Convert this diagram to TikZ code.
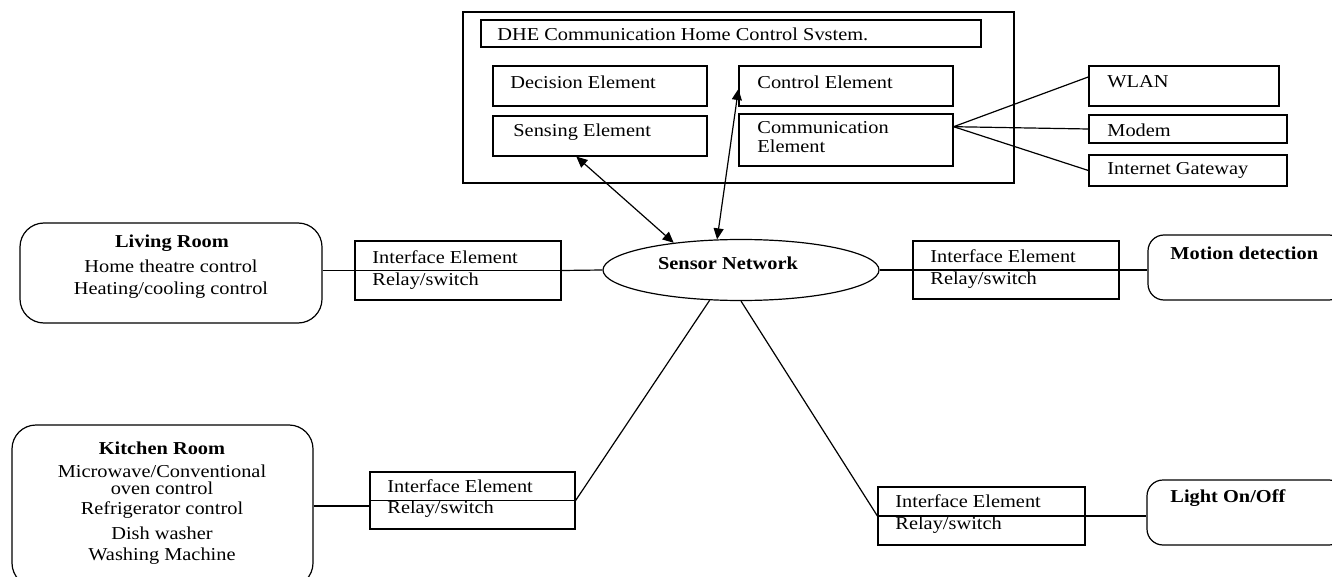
\documentclass[tikz,border=0pt]{standalone}
\usepackage{fontspec}
\setmainfont{Liberation Serif}[FakeStretch=1.12]
\usetikzlibrary{shapes.geometric,fit,arrows.meta,calc}
\begin{document}
\begin{tikzpicture}[x=0.5pt,y=-0.5pt,
  box/.style={draw, line width=0.6pt, inner sep=0pt},
  rbox/.style={draw, line width=0.6pt, inner sep=0pt, rounded corners=12pt},
  sbox/.style={draw, line width=0.6pt, inner sep=0pt, rounded corners=8pt},
  txt/.style={inner sep=0pt, anchor=west, font=\fontsize{9.1}{11}\selectfont},
  btxt/.style={inner sep=0pt, anchor=west, font=\fontsize{9.1}{11}\selectfont\bfseries},
  ctxt/.style={inner sep=0pt, font=\fontsize{9.1}{11}\selectfont},
  cbtxt/.style={inner sep=0pt, font=\fontsize{9.1}{11}\selectfont\bfseries},
  link/.style={line width=0.6pt},
  dbl/.style={line width=0.6pt, {Triangle[length=5.5pt,width=5pt]}-{Triangle[length=5.5pt,width=5pt]}}
]
\clip (0,0) rectangle (1332,577);

% control system block
\node[box, fit={(463,12) (1014,183)}] (sys) {};
\node[box, fit={(481,20) (981,47)}] (title) {};
\node[txt] at (497,34) {DHE Communication Home Control Svstem.};
\node[box, fit={(493,66) (707,106)}] (dec) {};
\node[txt] at (510,82) {Decision Element};
\node[box, fit={(739,66) (953,106)}] (ctrl) {};
\node[txt] at (757,82) {Control Element};
\node[box, fit={(493,116) (707,156)}] (sens) {};
\node[txt] at (513,132) {Sensing Element};
\node[box, fit={(739,114) (953,166)}] (comm) {};
\node[txt] at (757,128) {Communication};
\node[txt] at (757,146) {Element};

% communication channels
\node[box, fit={(1089,66) (1279,106)}] (wlan) {};
\node[txt] at (1107,82) {WLAN};
\node[box, fit={(1089,115) (1287,143)}] (modem) {};
\node[txt] at (1107,130) {Modem};
\node[box, fit={(1089,155) (1287,186)}] (gw) {};
\node[txt] at (1107,170) {Internet Gateway};
\coordinate (hub) at ($(comm.north east)!0.25!(comm.south east)$);
\draw[link] (hub) -- ($(wlan.north west)!0.28!(wlan.south west)$);
\draw[link] (hub) -- (modem.west);
\draw[link] (hub) -- (gw.west);

% sensor network
\node[draw, line width=0.6pt, ellipse, minimum width=138pt, minimum height=30.5pt, inner sep=0pt] (sn) at (741,270) {};
\node[cbtxt] at (728,263) {Sensor Network};
\coordinate (senstip) at ($(sens.south west)!0.39!(sens.south east)$);
\draw[dbl] (sn.158) -- (senstip);
\draw[dbl] (sn.128) -- ($(ctrl.west)+(0,3)$);

% living room
\node[rbox, fit={(20,223) (322,323)}] (living) {};
\node[cbtxt] at (172,243) {Living Room};
\node[ctxt] at (171,266) {Home theatre control};
\node[ctxt] at (171,290) {Heating/cooling control};
\node[box, fit={(355,241) (561,300)}] (ifl) {};
\draw[link] (ifl.west) -- (ifl.east);
\node[txt] at (372,257) {Interface Element};
\node[txt] at (372,281) {Relay/switch};
\draw[link] (ifl.west -| living.east) -- (ifl.west);
\draw[link] (ifl.east) -- (sn.west);

% motion detection
\node[box, fit={(913,241) (1119,299)}] (ifm) {};
\draw[link] (ifm.west) -- (ifm.east);
\node[txt] at (930,256) {Interface Element};
\node[txt] at (930,280) {Relay/switch};
\node[sbox, fit={(1148,235) (1345,300)}] (motion) {};
\node[btxt] at (1170,253) {Motion detection};
\draw[link] (sn.east) -- (ifm.west);
\draw[link] (ifm.east) -- (ifm.east -| motion.west);

% kitchen
\node[rbox, fit={(12,425) (313,587)}] (kitchen) {};
\node[cbtxt] at (162,448) {Kitchen Room};
\node[ctxt] at (162,471) {Microwave/Conventional};
\node[ctxt] at (162,488) {oven control};
\node[ctxt] at (162,510) {Refrigerator control};
\node[ctxt] at (162,533) {Dish washer};
\node[ctxt] at (162,556) {Washing Machine};
\node[box, fit={(370,472) (575,529)}] (ifk) {};
\draw[link] (ifk.west) -- (ifk.east);
\node[txt] at (387,486) {Interface Element};
\node[txt] at (387,509) {Relay/switch};
\draw[link] (kitchen.east) -- (kitchen.east -| ifk.west);
\draw[link] (ifk.east) -- (sn.224);

% light
\node[box, fit={(878,487) (1085,545)}] (ifo) {};
\draw[link] (ifo.west) -- (ifo.east);
\node[txt] at (895,501) {Interface Element};
\node[txt] at (895,525) {Relay/switch};
\node[sbox, fit={(1147,480) (1345,545)}] (light) {};
\node[btxt] at (1170,498) {Light On/Off};
\draw[link] (sn.270) -- (ifo.west);
\draw[link] (ifo.east) -- (ifo.east -| light.west);
\end{tikzpicture}
\end{document}
